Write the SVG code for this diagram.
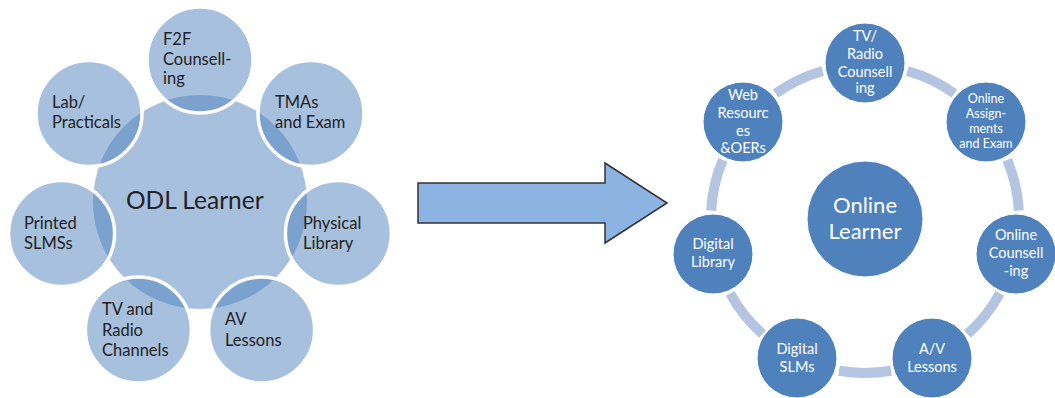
<svg xmlns="http://www.w3.org/2000/svg" width="1055" height="398" viewBox="0 0 1055 398">
<style>
.sat{fill:#4F81BD;fill-opacity:0.5;stroke:#FFFFFF;stroke-width:3.5}
.ctr{fill:#4F81BD;fill-opacity:0.5;stroke:none}
.lt{font-family:Lato,"Liberation Sans",sans-serif;font-size:16.5px;fill:#222222}
.big{font-family:Lato,"Liberation Sans",sans-serif;font-size:24.5px;fill:#222222}
.node{fill:#4F81BD;stroke:#FFFFFF;stroke-width:1}
.rt{font-family:Lato,"Liberation Sans",sans-serif;font-size:14.5px;fill:#FFFFFF;text-anchor:middle}
.rts{font-family:Lato,"Liberation Sans",sans-serif;font-size:12.5px;fill:#FFFFFF;text-anchor:middle}
.rtb{font-family:Lato,"Liberation Sans",sans-serif;font-size:22px;fill:#FFFFFF;text-anchor:middle}
.ring{fill:none;stroke:#B3C5E0;stroke-width:10;stroke-linecap:butt}
</style>
<rect width="1055" height="398" fill="#FFFFFF"/>

<!-- Left: ODL learner -->
<g id="odl-learner">
<circle class="ctr" cx="200" cy="202" r="107"/>
<text class="big" x="126" y="209">ODL Learner</text>
</g>
<g id="f2f">
<circle class="sat" cx="200" cy="60" r="53"/>
<text class="lt" x="163" y="45">F2F</text>
<text class="lt" x="163" y="65">Counsell-</text>
<text class="lt" x="163" y="84">ing</text>
</g>
<g id="tmas">
<circle class="sat" cx="311" cy="113.5" r="53"/>
<text class="lt" x="275" y="108">TMAs</text>
<text class="lt" x="275" y="128">and Exam</text>
</g>
<g id="physical-library">
<circle class="sat" cx="338.4" cy="233.6" r="53"/>
<text class="lt" x="303" y="229">Physical</text>
<text class="lt" x="303" y="249">Library</text>
</g>
<g id="av-lessons">
<circle class="sat" cx="261.6" cy="329.9" r="53"/>
<text class="lt" x="225" y="325">AV</text>
<text class="lt" x="225" y="346">Lessons</text>
</g>
<g id="tv-radio">
<circle class="sat" cx="138.4" cy="329.9" r="53"/>
<text class="lt" x="102" y="315">TV and</text>
<text class="lt" x="102" y="336">Radio</text>
<text class="lt" x="102" y="356">Channels</text>
</g>
<g id="printed-slms">
<circle class="sat" cx="61.6" cy="233.6" r="53"/>
<text class="lt" x="24" y="229">Printed</text>
<text class="lt" x="24" y="249">SLMSs</text>
</g>
<g id="lab">
<circle class="sat" cx="89" cy="113.5" r="53"/>
<text class="lt" x="52" y="108">Lab/</text>
<text class="lt" x="52" y="128">Practicals</text>
</g>

<!-- Big arrow -->
<g id="transition-arrow">
<polygon points="418,183 605,183 605,163 667,203 605,243 605,223 418,223" fill="#8DB3E2" stroke="#333333" stroke-width="1.5" stroke-linejoin="miter"/>
</g>

<!-- Right: ring connectors -->
<g id="connectors">
<path class="ring" d="M907.4 71 A154 154 0 0 1 954.3 93.5"/>
<path class="ring" d="M1007.2 159.9 A154 154 0 0 1 1018.8 210.6"/>
<path class="ring" d="M999.9 293.3 A154 154 0 0 1 967.5 334"/>
<path class="ring" d="M891 370.8 A154 154 0 0 1 839 370.8"/>
<path class="ring" d="M762.5 334 A154 154 0 0 1 730.1 293.3"/>
<path class="ring" d="M711.2 210.6 A154 154 0 0 1 722.8 159.9"/>
<path class="ring" d="M775.7 93.5 A154 154 0 0 1 822.6 71"/>
</g>

<g id="online-learner">
<circle class="node" cx="865" cy="219" r="58"/>
<text class="rtb" x="865" y="213">Online</text>
<text class="rtb" x="865" y="239">Learner</text>
</g>
<g id="tv-radio-counselling">
<circle class="node" cx="865" cy="63" r="40"/>
<text class="rt" x="865" y="41">TV/</text>
<text class="rt" x="865" y="58.5">Radio</text>
<text class="rt" x="865" y="76.5">Counsell</text>
<text class="rt" x="865" y="93">ing</text>
</g>
<g id="online-assignments">
<circle class="node" cx="986" cy="122" r="40"/>
<text class="rts" x="986" y="103">Online</text>
<text class="rts" x="986" y="118">Assign-</text>
<text class="rts" x="986" y="133">ments</text>
<text class="rts" x="986" y="148">and Exam</text>
</g>
<g id="online-counselling">
<circle class="node" cx="1016" cy="254" r="40"/>
<text class="rt" x="1016" y="240">Online</text>
<text class="rt" x="1016" y="258">Counsell</text>
<text class="rt" x="1016" y="276">-ing</text>
</g>
<g id="av-lessons-online">
<circle class="node" cx="932" cy="358" r="40"/>
<text class="rt" x="932" y="354">A/V</text>
<text class="rt" x="932" y="372">Lessons</text>
</g>
<g id="digital-slms">
<circle class="node" cx="797" cy="358" r="40"/>
<text class="rt" x="797" y="354">Digital</text>
<text class="rt" x="797" y="372">SLMs</text>
</g>
<g id="digital-library">
<circle class="node" cx="713" cy="254" r="40"/>
<text class="rt" x="713" y="249">Digital</text>
<text class="rt" x="713" y="267">Library</text>
</g>
<g id="web-resources">
<circle class="node" cx="743" cy="122" r="40"/>
<text class="rt" x="743" y="100">Web</text>
<text class="rt" x="743" y="118">Resourc</text>
<text class="rt" x="743" y="136">es</text>
<text class="rt" x="743" y="153">&amp;OERs</text>
</g>
</svg>
